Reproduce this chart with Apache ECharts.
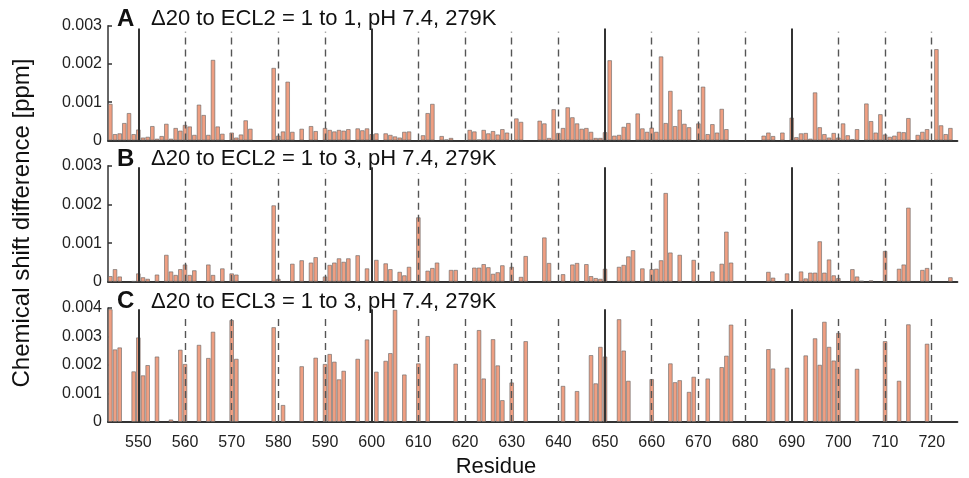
<!DOCTYPE html>
<html>
<head>
<meta charset="utf-8">
<script src="https://cdn.jsdelivr.net/npm/echarts@6/dist/echarts.min.js"></script>
<style>
  html, body { margin: 0; padding: 0; background: #fff; }
  #chart { width: 969px; height: 478px; }
</style>
</head>
<body>
<div id="chart"></div>
<script>
// residue ticks and the helix boundary markers
const tickResidues = [550, 560, 570, 580, 590, 600, 610, 620, 630, 640, 650, 660, 670, 680, 690, 700, 710, 720]
const solidLines = [550, 600, 650, 690]
const dashedLines = [560, 570, 580, 590, 610, 620, 630, 640, 660, 670, 680, 700, 710, 720]

const titles = [
  'Δ20 to ECL2 = 1 to 1, pH 7.4, 279K',
  'Δ20 to ECL2 = 1 to 3, pH 7.4, 279K',
  'Δ20 to ECL3 = 1 to 3, pH 7.4, 279K'
]
const letters = ['A', 'B', 'C']
const yMax = [0.003, 0.003, 0.004]

// [residue, chemical shift difference in ppm]
const shiftA = [
  [544,0.00096],[545,0.00017],[546,0.00019],[547,0.00046],[548,0.00072],[549,0.00017],[550,0.00029],
  [551,0.00008],[552,0.00010],[553,0.00038],[554,0.00005],[555,0.00012],[556,0.00044],[557,0.00005],
  [558,0.00033],[559,0.00026],[560,0.00041],[561,0.00037],[562,0.00015],[563,0.00094],[564,0.00067],
  [565,0.00015],[566,0.00211],[567,0.00037],[568,0.00018],[570,0.00021],[571,0.00008],[572,0.00016],
  [573,0.00053],[574,0.00031],[579,0.00190],[580,0.00013],[581,0.00024],[582,0.00154],[583,0.00023],
  [585,0.00031],[587,0.00038],[588,0.00025],[590,0.00033],[591,0.00028],[592,0.00024],[593,0.00028],
  [594,0.00026],[595,0.00030],[597,0.00032],[598,0.00027],[599,0.00032],[600,0.00017],[601,0.00019],
  [603,0.00019],[604,0.00015],[605,0.00011],[606,0.00008],[607,0.00023],[608,0.00024],[611,0.00014],
  [612,0.00072],[613,0.00096],[615,0.00012],[616,0.00003],[617,0.00007],[621,0.00028],[622,0.00024],
  [623,0.00003],[624,0.00028],[625,0.00019],[626,0.00025],[627,0.00016],[628,0.00030],[629,0.00021],
  [631,0.00058],[632,0.00049],[636,0.00052],[637,0.00045],[638,0.00007],[639,0.00082],[640,0.00020],
  [641,0.00033],[642,0.00087],[643,0.00061],[644,0.00045],[645,0.00031],[646,0.00033],[647,0.00023],
  [648,0.00007],[649,0.00007],[650,0.00022],[651,0.00210],[652,0.00013],[653,0.00015],[654,0.00036],
  [655,0.00046],[657,0.00071],[658,0.00032],[659,0.00023],[660,0.00034],[661,0.00023],[662,0.00220],
  [663,0.00046],[664,0.00130],[665,0.00038],[666,0.00081],[667,0.00044],[668,0.00035],[670,0.00045],
  [671,0.00141],[672,0.00017],[673,0.00043],[674,0.00021],[675,0.00083],[676,0.00030],[684,0.00013],
  [685,0.00021],[686,0.00012],[688,0.00021],[690,0.00060],[691,0.00009],[692,0.00019],[693,0.00020],
  [694,0.00005],[695,0.00126],[696,0.00035],[697,0.00017],[698,0.00008],[699,0.00020],[700,0.00008],
  [701,0.00045],[702,0.00014],[703,0.00004],[704,0.00030],[706,0.00097],[707,0.00051],[708,0.00021],
  [709,0.00069],[710,0.00016],[711,0.00010],[712,0.00013],[713,0.00023],[714,0.00022],[715,0.00059],
  [717,0.00015],[718,0.00023],[719,0.00030],[721,0.00239],[722,0.00040],[723,0.00017],[724,0.00033]
]
const shiftB = [
  [544,0.00015],[545,0.00033],[546,0.00014],[549,0.00002],[550,0.00022],[551,0.00012],[552,0.00008],
  [554,0.00019],[556,0.00070],[557,0.00027],[558,0.00018],[559,0.00033],[560,0.00045],[561,0.00018],
  [562,0.00030],[565,0.00045],[566,0.00018],[568,0.00035],[570,0.00022],[571,0.00019],[579,0.00198],
  [580,0.00008],[583,0.00047],[585,0.00056],[587,0.00050],[588,0.00064],[590,0.00014],[591,0.00044],
  [592,0.00050],[593,0.00061],[594,0.00052],[595,0.00061],[597,0.00069],[599,0.00035],[601,0.00057],
  [603,0.00048],[604,0.00033],[606,0.00026],[607,0.00017],[608,0.00039],[610,0.00167],[612,0.00029],
  [613,0.00036],[614,0.00050],[617,0.00031],[618,0.00031],[622,0.00037],[623,0.00037],[624,0.00046],
  [625,0.00038],[626,0.00021],[627,0.00025],[628,0.00043],[630,0.00039],[632,0.00013],[633,0.00067],
  [637,0.00115],[638,0.00049],[641,0.00020],[643,0.00045],[644,0.00049],[646,0.00046],[647,0.00015],
  [648,0.00010],[649,0.00008],[650,0.00034],[653,0.00039],[654,0.00044],[655,0.00066],[656,0.00082],
  [658,0.00035],[660,0.00033],[661,0.00034],[662,0.00056],[663,0.00230],[664,0.00076],[666,0.00070],
  [669,0.00057],[673,0.00027],[675,0.00047],[676,0.00130],[677,0.00050],[685,0.00026],[686,0.00011],
  [689,0.00022],[692,0.00027],[693,0.00009],[694,0.00024],[695,0.00024],[696,0.00105],[697,0.00024],
  [698,0.00058],[699,0.00017],[700,0.00010],[703,0.00033],[704,0.00014],[705,0.00003],[707,0.00004],
  [710,0.00080],[713,0.00034],[714,0.00045],[715,0.00192],[718,0.00031],[719,0.00036],[724,0.00012]
]
const shiftC = [
  [544,0.00396],[545,0.00255],[546,0.00262],[549,0.00178],[550,0.00297],[551,0.00164],[552,0.00200],
  [554,0.00230],[557,0.00009],[559,0.00254],[560,0.00204],[563,0.00271],[565,0.00225],[566,0.00317],
  [570,0.00358],[571,0.00222],[579,0.00333],[581,0.00060],[585,0.00196],[588,0.00226],[590,0.00204],
  [591,0.00239],[592,0.00212],[593,0.00150],[594,0.00180],[597,0.00222],[599,0.00290],[601,0.00177],
  [603,0.00215],[604,0.00242],[605,0.00394],[607,0.00167],[610,0.00206],[612,0.00302],[618,0.00205],
  [623,0.00323],[624,0.00153],[626,0.00291],[627,0.00199],[628,0.00077],[630,0.00139],[633,0.00284],
  [641,0.00127],[644,0.00109],[647,0.00235],[648,0.00136],[649,0.00264],[650,0.00230],[653,0.00361],
  [654,0.00251],[655,0.00145],[660,0.00151],[664,0.00206],[665,0.00140],[666,0.00147],[668,0.00106],
  [669,0.00159],[672,0.00153],[675,0.00193],[676,0.00233],[677,0.00342],[685,0.00256],[686,0.00188],
  [689,0.00191],[693,0.00234],[695,0.00294],[696,0.00201],[697,0.00352],[698,0.00264],[699,0.00216],
  [700,0.00313],[704,0.00187],[710,0.00284],[713,0.00145],[715,0.00343],[719,0.00275]
]
const panels = [shiftA, shiftB, shiftC]

const grids = [
  {left: 108, right: 11.6, top: 25.7, height: 114.8},
  {left: 108, right: 11.6, top: 165.8, height: 116},
  {left: 108, right: 11.6, top: 308, height: 114}
]
const solidTop = [0.00293, 0.00296, 0.00396]
const dashTop = [0.00284, 0.00281, 0.00372]

const fontFamily = '"Liberation Sans", Arial, Helvetica, sans-serif'

const xAxis = grids.map((g, i) => ({
  gridIndex: i,
  type: 'value',
  min: 543.5,
  max: 725.5,
  axisLine: {show: true, onZero: false, lineStyle: {color: '#333', width: 2}},
  axisTick: {show: false},
  splitLine: {show: false},
  axisLabel: i === 2 ? {
    show: true,
    customValues: tickResidues,
    color: '#222',
    fontSize: 16,
    fontFamily: fontFamily,
    margin: 13
  } : {show: false}
}))

const yAxis = grids.map((g, i) => ({
  gridIndex: i,
  type: 'value',
  min: 0,
  max: yMax[i],
  interval: 0.001,
  axisLine: {show: true, lineStyle: {color: '#333', width: 1.5}},
  axisTick: {show: true, inside: true, length: 4, lineStyle: {color: '#333', width: 1.5}},
  splitLine: {show: false},
  axisLabel: {
    color: '#222',
    fontSize: 16,
    fontFamily: fontFamily,
    margin: 6,
    formatter: v => v === 0 ? '0' : v.toFixed(3)
  }
}))

const series = panels.map((data, i) => ({
  type: 'bar',
  xAxisIndex: i,
  yAxisIndex: i,
  data: data,
  barWidth: 4.67,
  itemStyle: {
    color: '#ef9f82',
    borderColor: 'rgba(100,100,100,0.6)',
    borderWidth: 1
  },
  markLine: {
    silent: true,
    symbol: ['none', 'none'],
    label: {show: false},
    animation: false,
    data: solidLines.map(r => [
      {coord: [r, 0], lineStyle: {type: 'solid', color: '#333', width: 2}},
      {coord: [r, solidTop[i]]}
    ]).concat(dashedLines.map(r => [
      {coord: [r, 0], lineStyle: {type: [7, 5], color: '#555', width: 1.4}},
      {coord: [r, dashTop[i]]}
    ]))
  }
}))

const graphic = []
grids.forEach((g, i) => {
  graphic.push({
    type: 'text', left: 117, top: g.top - 18.5,
    style: {text: letters[i], font: 'bold 24px ' + fontFamily, fill: '#111'}
  })
  graphic.push({
    type: 'text', left: 151, top: g.top - 17.5,
    style: {text: titles[i], font: '22px ' + fontFamily, fill: '#111'}
  })
})
graphic.push({
  type: 'text', x: 22, y: 223, rotation: Math.PI / 2,
  style: {text: 'Chemical shift difference [ppm]', font: '24px ' + fontFamily, fill: '#111',
          align: 'center', verticalAlign: 'middle'}
})
graphic.push({
  type: 'text', x: 496, y: 467,
  style: {text: 'Residue', font: '22px ' + fontFamily, fill: '#111',
          align: 'center', verticalAlign: 'middle'}
})

const chart = echarts.init(document.getElementById('chart'))
chart.setOption({
  backgroundColor: '#fff',
  animation: false,
  grid: grids,
  xAxis: xAxis,
  yAxis: yAxis,
  series: series,
  graphic: graphic
})
</script>
</body>
</html>
